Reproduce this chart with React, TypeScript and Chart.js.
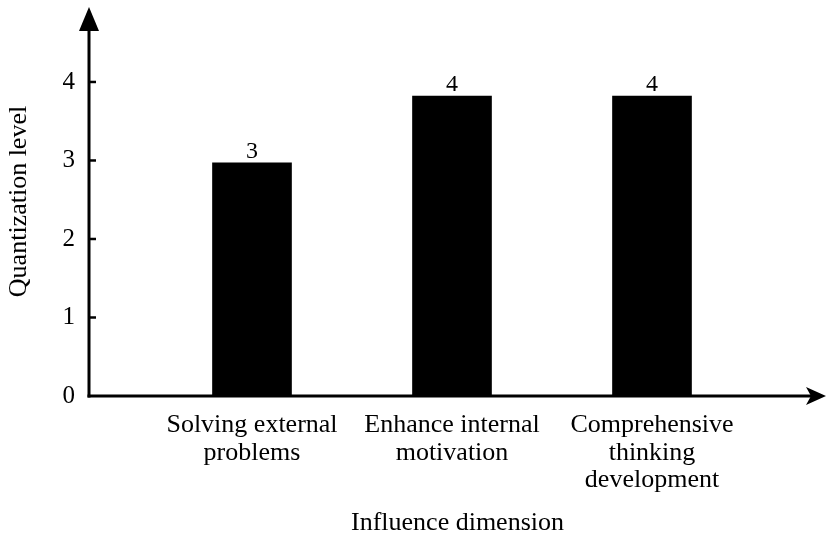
import { useEffect, useRef } from "react";
import { Chart, registerables } from "chart.js";

Chart.register(...registerables);

const categories: string[][] = [
  ["Solving external", "problems"],
  ["Enhance internal", "motivation"],
  ["Comprehensive", "thinking", "development"],
];
const categoryPositions = [1, 2, 3];
const values = [2.97, 3.82, 3.82];
const valueLabels = ["3", "4", "4"];
const yTicks = [0, 1, 2, 3, 4];
const xTitle = "Influence dimension";
const yTitle = "Quantization level";

const FONT = "'Liberation Serif', 'Times New Roman', serif";

const axesPlugin = {
  id: "arrowAxes",
  afterDraw(chart: any) {
    const ctx = chart.ctx;
    const { left, right, top, bottom } = chart.chartArea;
    const yScale = chart.scales.y;
    ctx.save();
    ctx.strokeStyle = "#000";
    ctx.fillStyle = "#000";
    ctx.lineWidth = 3;
    const tipY = top;
    const tipX = right;
    // y axis
    ctx.beginPath();
    ctx.moveTo(left, bottom + 1.5);
    ctx.lineTo(left, tipY + 10);
    ctx.stroke();
    ctx.beginPath();
    ctx.moveTo(left, tipY);
    ctx.lineTo(left - 10, tipY + 24);
    ctx.lineTo(left + 10, tipY + 24);
    ctx.closePath();
    ctx.fill();
    // x axis
    ctx.beginPath();
    ctx.moveTo(left - 1.5, bottom);
    ctx.lineTo(tipX - 10, bottom);
    ctx.stroke();
    ctx.beginPath();
    ctx.moveTo(tipX, bottom);
    ctx.lineTo(tipX - 20, bottom - 9);
    ctx.lineTo(tipX - 15, bottom);
    ctx.lineTo(tipX - 20, bottom + 9);
    ctx.closePath();
    ctx.fill();
    // tick marks
    ctx.lineWidth = 2.5;
    yTicks.forEach((v) => {
      if (v === 0) return;
      const py = yScale.getPixelForValue(v);
      ctx.beginPath();
      ctx.moveTo(left, py);
      ctx.lineTo(left + 7, py);
      ctx.stroke();
    });
    // value labels
    const meta = chart.getDatasetMeta(0);
    ctx.font = `24px ${FONT}`;
    ctx.textAlign = "center";
    ctx.textBaseline = "alphabetic";
    meta.data.forEach((bar: any, i: number) => {
      ctx.fillText(valueLabels[i], bar.x, bar.y - 5);
    });
    ctx.restore();
  },
};

export default function App() {
  const ref = useRef<HTMLCanvasElement | null>(null);
  useEffect(() => {
    if (!ref.current) return;
    const chart = new Chart(ref.current, {
      type: "bar",
      data: {
        datasets: [
          {
            data: values.map((v, i) => ({ x: categoryPositions[i], y: v })),
            backgroundColor: "#000",
            borderWidth: 0,
            barThickness: 79,
          } as any,
        ],
      },
      options: {
        responsive: false,
        animation: false,
        layout: { padding: { top: 7, right: 1, left: 0, bottom: 0 } },
        plugins: {
          legend: { display: false },
          tooltip: { enabled: false },
        },
        scales: {
          x: {
            type: "linear",
            offset: false,
            min: 0.185,
            max: 3.87,
            grid: { display: false, drawTicks: false, offset: false },
            border: { display: false },
            afterBuildTicks: (scale: any) => {
              scale.ticks = categoryPositions.map((v) => ({ value: v }));
            },
            afterFit: (scale: any) => {
              scale.height = 143;
              scale.paddingLeft = 0;
              scale.paddingRight = 0;
            },
            ticks: {
              autoSkip: false,
              maxRotation: 0,
              minRotation: 0,
              padding: 15,
              color: "#000",
              font: { family: FONT, size: 26, lineHeight: 1.07 },
              callback: (value: any) => {
                const idx = categoryPositions.indexOf(Number(value));
                return idx >= 0 ? categories[idx] : "";
              },
            },
            title: {
              display: true,
              text: xTitle,
              color: "#000",
              font: { family: FONT, size: 26 },
              padding: { top: 0, bottom: 0 },
            },
          },
          y: {
            type: "linear",
            min: 0,
            max: 4.955,
            grid: { display: false, drawTicks: false },
            border: { display: false },
            afterBuildTicks: (scale: any) => {
              scale.ticks = yTicks.map((v) => ({ value: v }));
            },
            afterFit: (scale: any) => {
              scale.width = 89;
              scale.paddingTop = 0;
              scale.paddingBottom = 0;
            },
            ticks: {
              padding: 14,
              color: "#000",
              font: { family: FONT, size: 25 },
              callback: (value: any) => String(value),
            },
            title: {
              display: true,
              text: yTitle,
              color: "#000",
              font: { family: FONT, size: 26 },
              padding: { top: 4, bottom: 4 },
            },
          },
        },
      },
      plugins: [axesPlugin],
    });
    return () => chart.destroy();
  }, []);
  return (
    <div style={{ position: "fixed", left: 0, top: 0, width: 827, height: 539, background: "#fff" }}>
      <canvas ref={ref} width={827} height={539} style={{ display: "block" }} />
    </div>
  );
}
